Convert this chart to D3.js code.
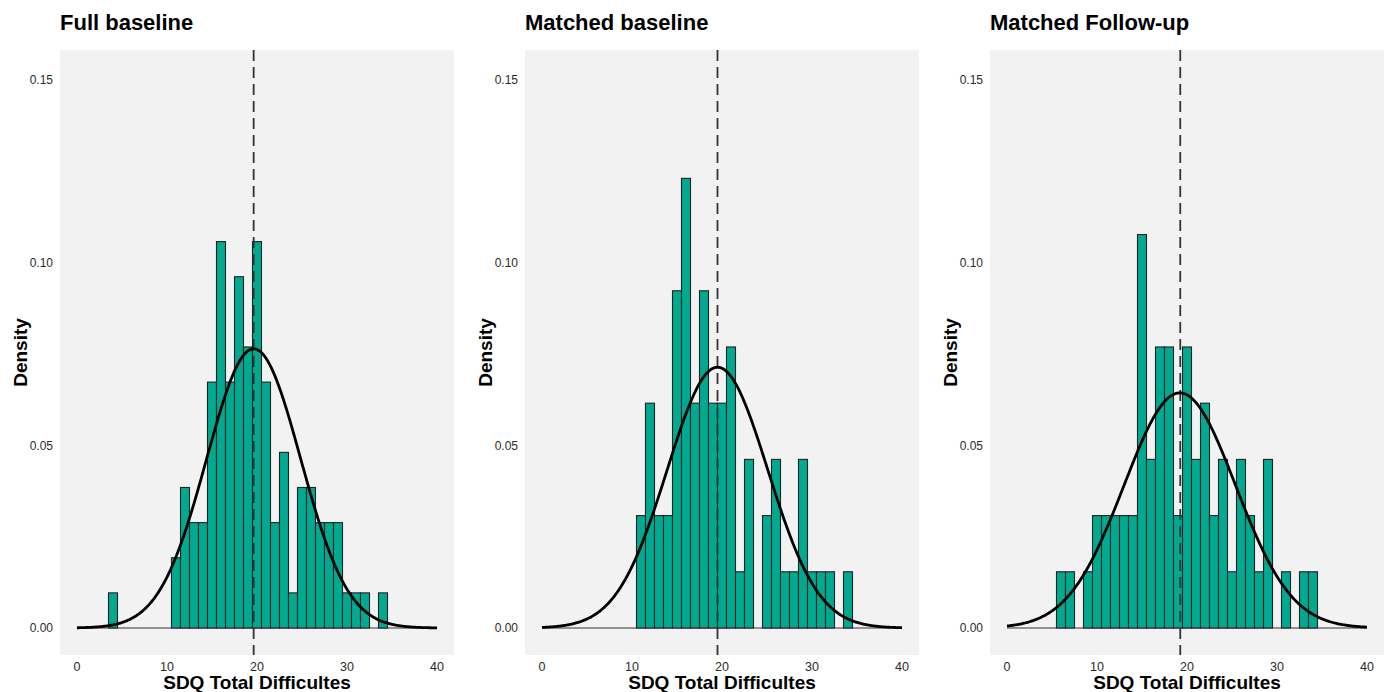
<!DOCTYPE html>
<html>
<head>
<meta charset="utf-8">
<script src="https://cdn.jsdelivr.net/npm/d3@7"></script>
<style>
  html, body { margin: 0; padding: 0; background: #ffffff; }
  svg { display: block; font-family: "Liberation Sans", Arial, Helvetica, sans-serif; }
</style>
</head>
<body>
<svg id="chart" width="1391" height="692"></svg>
<script>
// ---- data ----
const panelTitles = ["Full baseline", "Matched baseline", "Matched Follow-up"];
const xLabel = "SDQ Total Difficultes";
const yLabel = "Density";
const xTicks = [0, 10, 20, 30, 40];
const yTicks = [0.00, 0.05, 0.10, 0.15];
const binCenters = [4, 5, 6, 7, 8, 9, 10, 11, 12, 13, 14, 15, 16, 17, 18, 19, 20, 21, 22, 23, 24, 25, 26, 27, 28, 29, 30, 31, 32, 33, 34];
const countsFull    = [1, 0, 0, 0, 0, 0, 0, 2, 4, 3, 3, 7, 11, 7, 10, 8, 11, 7, 3, 5, 1, 4, 4, 3, 3, 3, 1, 1, 1, 0, 1];
const countsMatched = [0, 0, 0, 0, 0, 0, 0, 2, 4, 2, 2, 6, 8, 4, 6, 4, 4, 5, 1, 3, 0, 2, 3, 1, 1, 3, 1, 1, 1, 0, 1];
const countsFollow  = [0, 0, 1, 1, 0, 1, 2, 2, 2, 2, 2, 7, 3, 5, 5, 2, 5, 3, 4, 2, 3, 1, 3, 2, 1, 3, 0, 1, 0, 1, 1];
const curveMeans = [19.63, 19.5, 19.2];
const curveSds   = [5.22, 5.59, 6.2];
const meanLines  = [19.63, 19.5, 19.25];

const allCounts = [countsFull, countsMatched, countsFollow];

// ---- layout ----
const svg = d3.select("#chart");
const panelLefts = [60, 525, 990];
const panelW = 394;
const plotTop = 50, plotBottom = 655;
const innerPad = 17;

const y = d3.scaleLinear().domain([0, 0.15]).range([628, 80]);

function dnorm(x, m, s) {
  return Math.exp(-0.5 * ((x - m) / s) ** 2) / (s * Math.sqrt(2 * Math.PI));
}

panelTitles.forEach((title, i) => {
  const left = panelLefts[i];
  const x = d3.scaleLinear().domain([0, 40]).range([left + innerPad, left + panelW - innerPad]);
  const g = svg.append("g");
  const counts = allCounts[i];
  const n = d3.sum(counts);

  // background
  g.append("rect")
    .attr("x", left).attr("y", plotTop)
    .attr("width", panelW).attr("height", plotBottom - plotTop)
    .attr("fill", "#f2f2f2");

  // title
  g.append("text")
    .attr("x", left).attr("y", 30)
    .attr("font-size", 22).attr("font-weight", "bold")
    .attr("fill", "#000")
    .text(title);

  // y ticks
  g.selectAll(".ytick").data(yTicks).enter().append("text")
    .attr("x", left - 7).attr("y", d => y(d))
    .attr("dy", "0.35em")
    .attr("text-anchor", "end")
    .attr("font-size", 12).attr("fill", "#2a2a2a")
    .text(d => d3.format(".2f")(d));

  // x ticks
  g.selectAll(".xtick").data(xTicks).enter().append("text")
    .attr("x", d => x(d)).attr("y", 671)
    .attr("text-anchor", "middle")
    .attr("font-size", 12.5).attr("fill", "#2a2a2a")
    .text(d => d);

  // axis titles
  g.append("text")
    .attr("x", left + panelW / 2).attr("y", 689)
    .attr("text-anchor", "middle")
    .attr("font-size", 19).attr("font-weight", "bold")
    .text(xLabel);

  g.append("text")
    .attr("transform", `translate(${left - 33},${(plotTop + plotBottom) / 2}) rotate(-90)`)
    .attr("text-anchor", "middle")
    .attr("font-size", 19).attr("font-weight", "bold")
    .text(yLabel);

  // zero baseline of empty bins
  g.append("line")
    .attr("x1", x(0)).attr("x2", x(40))
    .attr("y1", y(0)).attr("y2", y(0))
    .attr("stroke", "#333").attr("stroke-width", 1.1);

  // bars
  const bins = binCenters.map((c, k) => ({ c, d: counts[k] / n })).filter(b => b.d > 0);
  g.selectAll(".bar").data(bins).enter().append("rect")
    .attr("x", b => x(b.c - 0.5))
    .attr("width", b => x(b.c + 0.5) - x(b.c - 0.5))
    .attr("y", b => y(b.d))
    .attr("height", b => y(0) - y(b.d))
    .attr("fill", "#00a98f")
    .attr("stroke", "#222").attr("stroke-width", 1.1);

  // mean dashed line
  g.append("line")
    .attr("x1", x(meanLines[i])).attr("x2", x(meanLines[i]))
    .attr("y1", plotTop).attr("y2", plotBottom)
    .attr("stroke", "#333").attr("stroke-width", 1.8)
    .attr("stroke-dasharray", "11,6");

  // normal curve
  const pts = d3.range(0, 40.001, 0.1).map(v => [v, dnorm(v, curveMeans[i], curveSds[i])]);
  g.append("path")
    .datum(pts)
    .attr("d", d3.line().x(p => x(p[0])).y(p => y(p[1])))
    .attr("fill", "none")
    .attr("stroke", "#000").attr("stroke-width", 2.8)
    .attr("stroke-linejoin", "round");
});
</script>
</body>
</html>
